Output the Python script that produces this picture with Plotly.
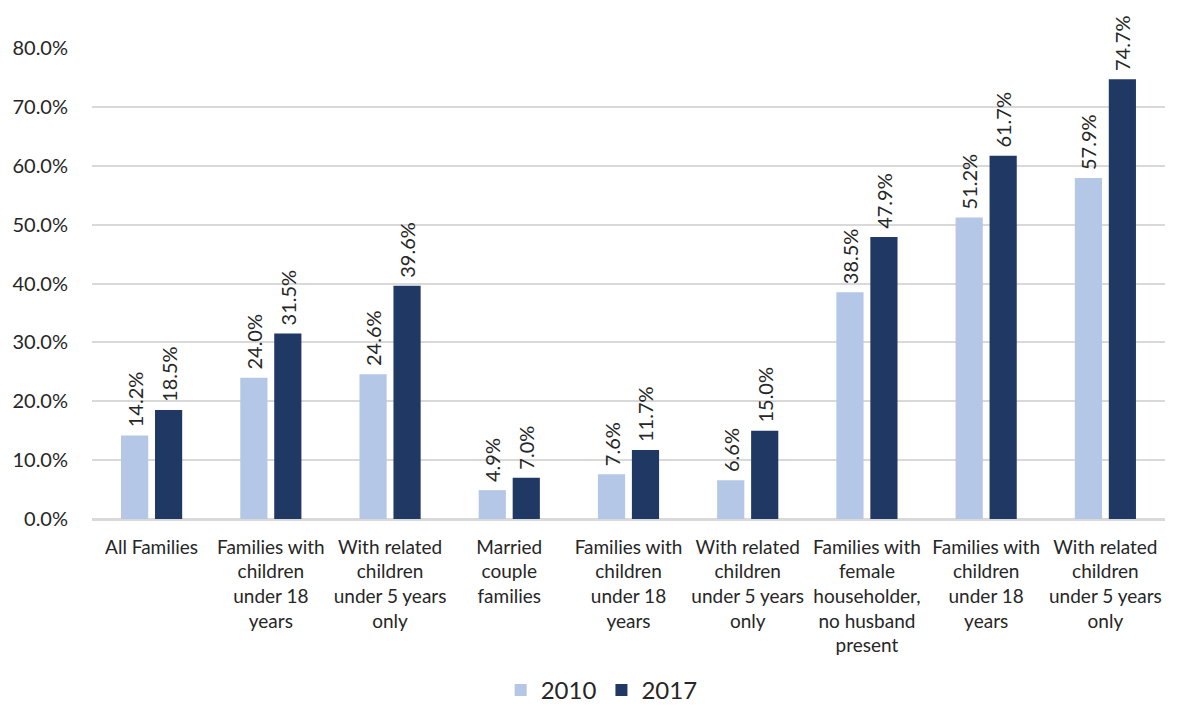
import plotly.graph_objects as go

categories = [
    "All Families",
    "Families with<br>children<br>under 18<br>years",
    "With related<br>children<br>under 5 years<br>only",
    "Married<br>couple<br>families",
    "Families with<br>children<br>under 18<br>years",
    "With related<br>children<br>under 5 years<br>only",
    "Families with<br>female<br>householder,<br>no husband<br>present",
    "Families with<br>children<br>under 18<br>years",
    "With related<br>children<br>under 5 years<br>only",
]
values_2010 = [14.2, 24.0, 24.6, 4.9, 7.6, 6.6, 38.5, 51.2, 57.9]
values_2017 = [18.5, 31.5, 39.6, 7.0, 11.7, 15.0, 47.9, 61.7, 74.7]
y_ticks = [0, 10, 20, 30, 40, 50, 60, 70, 80]

FONT = "Lato"
TEXT = "#262626"
NBSP = "\u00a0"
x_idx = list(range(len(categories)))

fig = go.Figure()
for name, vals, color in [("2010", values_2010, "#B4C7E7"), ("2017", values_2017, "#203864")]:
    fig.add_trace(go.Bar(
        x=x_idx, y=vals, name=name,
        marker=dict(color=color, line=dict(width=0)),
        # rotated labels read bottom-to-top; a leading space lifts them off the bar
        text=[f"{NBSP}{v:.1f}%" for v in vals],
        textposition="outside", textangle=-90, constraintext="none",
        textfont=dict(family=FONT, size=20, color=TEXT),
        cliponaxis=False,
    ))

fig.update_layout(
    width=1182, height=708,
    margin=dict(l=92, r=17, t=48, b=189, autoexpand=False),
    paper_bgcolor="white", plot_bgcolor="white",
    barmode="group", bargap=0.43, bargroupgap=0.2,
    font=dict(family=FONT, color=TEXT),
    legend=dict(orientation="h", x=0.475, xanchor="center",
                yref="container", y=0.025, yanchor="middle",
                font=dict(family=FONT, size=24, color=TEXT),
                traceorder="normal"),
    xaxis=dict(tickmode="array", tickvals=x_idx, ticktext=categories,
               tickfont=dict(family=FONT, size=19, color=TEXT),
               showgrid=False, showline=True, linecolor="#D9D9D9", linewidth=1.5,
               ticks="", automargin=False, ticklabelstandoff=10,
               range=[-0.5, len(categories) - 0.5]),
    yaxis=dict(range=[0, 80], tickmode="array", tickvals=y_ticks,
               ticktext=[f"{v:.1f}%" for v in y_ticks],
               tickfont=dict(family=FONT, size=20, color=TEXT),
               showgrid=True, gridcolor="#D9D9D9", gridwidth=1.5,
               zeroline=True, zerolinecolor="#D9D9D9", zerolinewidth=1.5,
               ticks="", automargin=False, ticklabelstandoff=23),
)

fig.write_html("out.html")
